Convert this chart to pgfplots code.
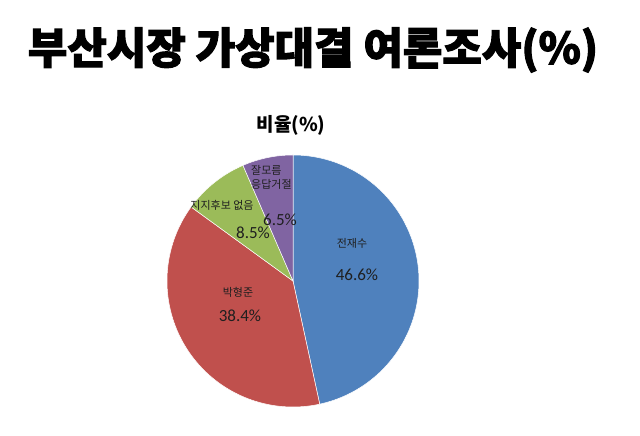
\documentclass[border=0pt]{standalone}
\usepackage{pgfplots}
\pgfplotsset{compat=1.18}
\usepackage{pgfplotstable}
\usepackage{fontspec}
\setmainfont{Carlito}
\newfontfamily\kr{Noto Sans CJK KR}
\newfontfamily\krh{Noto Sans CJK KR}[BoldFeatures={FakeBold=2.4}]

\definecolor{pieblue}{HTML}{4F81BD}
\definecolor{piered}{HTML}{C0504D}
\definecolor{piegreen}{HTML}{9BBB59}
\definecolor{piepurple}{HTML}{8064A2}

% share of each answer, in percent
\pgfplotstableread{
key value
jeon 46.6
park 38.4
none 8.5
dunno 6.5
}\piedata

\pgfplotstablegetelem{0}{value}\of\piedata\let\vA\pgfplotsretval
\pgfplotstablegetelem{1}{value}\of\piedata\let\vB\pgfplotsretval
\pgfplotstablegetelem{2}{value}\of\piedata\let\vC\pgfplotsretval
\pgfplotstablegetelem{3}{value}\of\piedata\let\vD\pgfplotsretval
% slices run clockwise from 12 o'clock
\pgfmathsetmacro\tA{90}
\pgfmathsetmacro\tB{\tA-3.6*\vA}
\pgfmathsetmacro\tC{\tB-3.6*\vB}
\pgfmathsetmacro\tD{\tC-3.6*\vC}
\pgfmathsetmacro\tE{\tD-3.6*\vD}

\begin{document}
\begin{tikzpicture}
\begin{axis}[
    scale only axis, width=640pt, height=436pt,
    xmin=0, xmax=640, ymin=0, ymax=436,
    hide axis, clip=false,
    every axis plot/.append style={draw=white, line width=0.5pt, samples=120}
]
\path (rel axis cs:0,0) rectangle (rel axis cs:1,1);

\addplot[fill=pieblue, domain=\tB:\tA] ({293+126*cos(x)}, {155+126*sin(x)}) -- (axis cs:293,155) -- cycle;
\addplot[fill=piered, domain=\tC:\tB] ({293+126*cos(x)}, {155+126*sin(x)}) -- (axis cs:293,155) -- cycle;
\addplot[fill=piegreen, domain=\tD:\tC] ({293+126*cos(x)}, {155+126*sin(x)}) -- (axis cs:293,155) -- cycle;
\addplot[fill=piepurple, domain=\tE:\tD] ({293+126*cos(x)}, {155+126*sin(x)}) -- (axis cs:293,155) -- cycle;

% titles
\node at (axis cs:313,386) {\resizebox{570pt}{!}{\krh\bfseries 부산시장 가상대결 여론조사(\%)}};
\node at (axis cs:291,311) {\kr\bfseries\fontsize{19}{22}\selectfont 비율(\%)};

% slice labels
\begin{scope}[every node/.style={text=black!88}]
\node at (axis cs:352,193) {\kr\fontsize{11}{13}\selectfont 전재수};
\node at (axis cs:357,161) {\fontsize{17}{20}\selectfont 46.6\%};
\node at (axis cs:238,144) {\kr\fontsize{11}{13}\selectfont 박형준};
\node at (axis cs:240,120) {\fontsize{17}{20}\selectfont 38.4\%};
\node at (axis cs:222,231) {\kr\fontsize{11}{13}\selectfont 지지후보 없음};
\node at (axis cs:253,203) {\fontsize{17}{20}\selectfont 8.5\%};
\node[anchor=west, inner sep=0pt] at (axis cs:251,266) {\kr\fontsize{11}{13}\selectfont 잘모름};
\node[anchor=west, inner sep=0pt] at (axis cs:251,252) {\kr\fontsize{11}{13}\selectfont 응답거절};
\node at (axis cs:280,216) {\fontsize{17}{20}\selectfont 6.5\%};
\end{scope}
\end{axis}
\end{tikzpicture}
\end{document}
